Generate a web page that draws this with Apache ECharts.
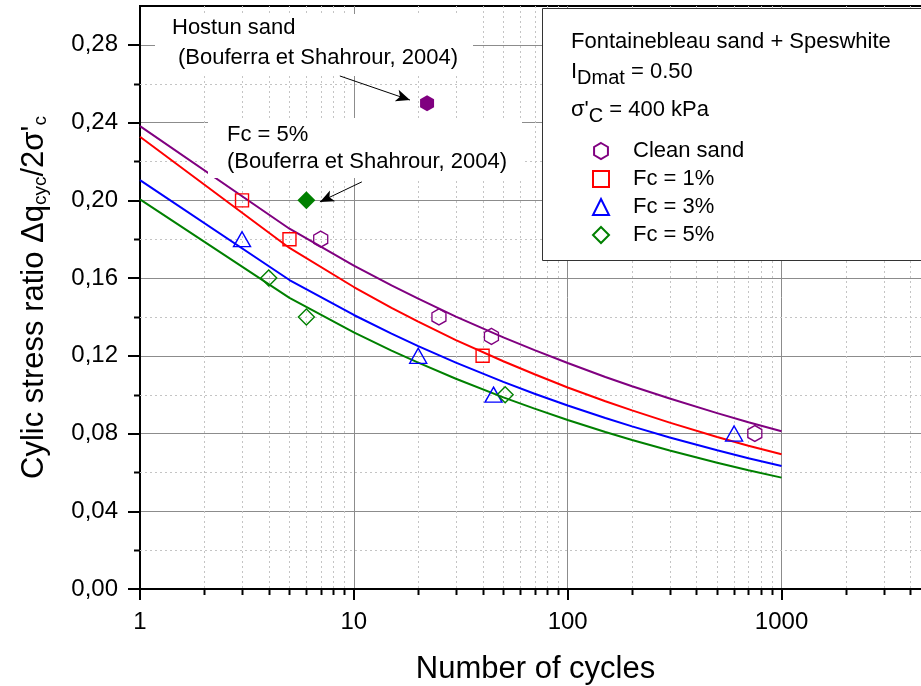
<!DOCTYPE html>
<html>
<head>
<meta charset="utf-8">
<script src="https://cdn.jsdelivr.net/npm/echarts@6/dist/echarts.min.js"></script>
<style>
  html, body { margin: 0; padding: 0; background: #fff; }
  #chart { width: 921px; height: 686px; }
</style>
</head>
<body>
<div id="chart"></div>
<script>
const FONT = '"Liberation Sans", Arial, Helvetica, sans-serif';

// fitted curves, sampled at these numbers of cycles
const fitCycles = [1, 5, 10, 15, 20, 30, 50, 70, 100, 150, 200, 300, 500, 700, 1000];
const fitClean = [0.2382, 0.1854, 0.1664, 0.1562, 0.1494, 0.1402, 0.1295, 0.1229, 0.1163, 0.1091, 0.1043, 0.0980, 0.0905, 0.0858, 0.0812];
const fitFc1 = [0.2327, 0.1755, 0.1554, 0.1447, 0.1376, 0.1281, 0.1172, 0.1105, 0.1037, 0.0966, 0.0919, 0.0856, 0.0782, 0.0737, 0.0693];
const fitFc3 = [0.2104, 0.1590, 0.1410, 0.1314, 0.1250, 0.1165, 0.1066, 0.1005, 0.0944, 0.0880, 0.0837, 0.0780, 0.0714, 0.0673, 0.0633];
const fitFc5 = [0.2005, 0.1498, 0.1321, 0.1227, 0.1165, 0.1082, 0.0986, 0.0928, 0.0870, 0.0808, 0.0767, 0.0713, 0.0650, 0.0611, 0.0573];

// test points [cycles, CSR]
const cleanSand = [[7, 0.18], [25, 0.14], [44, 0.13], [750, 0.08]];
const fc1 = [[3, 0.20], [5, 0.18], [40, 0.12]];
const fc3 = [[3, 0.18], [20, 0.12], [45, 0.10], [600, 0.08]];
const fc5 = [[4, 0.16], [6, 0.14], [51, 0.10]];
const hostunClean = [[22, 0.25]];
const hostunFc5 = [[6, 0.20]];

// annotation arrows [from, to]
const arrowHostun = [[8.6, 0.264], [18.3, 0.2516]];
const arrowFc5 = [[10.9, 0.2095], [6.94, 0.1992]];

const xMinor = [2, 3, 4, 5, 6, 7, 8, 9, 20, 30, 40, 50, 60, 70, 80, 90,
  200, 300, 400, 500, 600, 700, 800, 900, 2000, 3000, 4000];
const yMajor = [0, 0.04, 0.08, 0.12, 0.16, 0.20, 0.24, 0.28];
const yMinor = [0.02, 0.06, 0.10, 0.14, 0.18, 0.22, 0.26];

const HEX = 'path://M50,0 L93.3,25 L93.3,75 L50,100 L6.7,75 L6.7,25 Z';
const NONE = 'rgba(255,255,255,0)';

const pairs = (xs, ys) => xs.map((x, i) => [x, ys[i]]);

const fitLine = (name, color, values) => ({
  name, type: 'line', data: pairs(fitCycles, values), symbol: 'none',
  lineStyle: { color, width: 2 }, itemStyle: { color }, z: 2, silent: true
});

const points = (name, color, data, symbol, size, filled) => ({
  name, type: 'scatter', data, symbol, symbolSize: size, z: 3, silent: true,
  itemStyle: filled
    ? { color, opacity: 1 }
    : { color: NONE, borderColor: color, borderWidth: 1.4, opacity: 1 }
});

const chart = echarts.init(document.getElementById('chart'));
chart.setOption({
  animation: false,
  textStyle: { fontFamily: FONT },
  grid: {
    left: 140, top: 6, width: 791, height: 583, outerBoundsMode: 'none', containLabel: false,
    show: true, borderColor: '#000', borderWidth: 2
  },
  legend: {
    data: ['Clean sand', 'Fc = 1%', 'Fc = 3%', 'Fc = 5%'],
    orient: 'vertical', left: 587, top: 135, z: 10,
    itemWidth: 16, itemHeight: 16, itemGap: 6, selectedMode: false,
    textStyle: { fontFamily: FONT, fontSize: 22, color: '#000', lineHeight: 22, padding: [0, 0, 0, 19] }
  },
  xAxis: {
    type: 'log', min: 1, max: 5000, logBase: 10,
    name: 'Number of cycles', nameLocation: 'middle', nameGap: 65,
    nameTextStyle: { fontFamily: FONT, fontSize: 31, color: '#000' },
    axisLine: { lineStyle: { color: '#000', width: 2 } },
    axisTick: { inside: false, length: 11, lineStyle: { color: '#000', width: 2 } },
    axisLabel: {
      fontFamily: FONT, fontSize: 24, color: '#000', margin: 21,
      formatter: v => (Math.abs(Math.log10(v) - Math.round(Math.log10(v))) < 1e-6 && v < 2000 ? String(Math.round(v)) : '')
    },
    splitLine: { show: true, lineStyle: { color: '#8c8c8c', width: 1 } },
    minorTick: { show: false }
  },
  yAxis: {
    type: 'value', min: 0, max: 0.30, interval: 0.04,
    name: '{n|Cylic stress ratio Δq}{s|cyc}{n|/2σ\'}{s|c}',
    nameLocation: 'middle', nameGap: 90,
    nameTextStyle: {
      fontFamily: FONT, fontSize: 31, color: '#000',
      rich: {
        n: { fontFamily: FONT, fontSize: 31, color: '#000' },
        s: { fontFamily: FONT, fontSize: 19, color: '#000', padding: [13, 0, 0, 0] }
      }
    },
    axisLine: { lineStyle: { color: '#000', width: 2 } },
    axisTick: { length: 12, customValues: yMajor, lineStyle: { color: '#000', width: 2 } },
    axisLabel: {
      fontFamily: FONT, fontSize: 24, color: '#000', margin: 22, customValues: yMajor,
      formatter: v => (v > 0.29 ? '' : v.toFixed(2).replace('.', ','))
    },
    splitLine: { show: true, lineStyle: { color: '#8c8c8c', width: 1 } }
  },
  graphic: [
    { type: 'rect', shape: { x: 155, y: 14, width: 318, height: 62 }, style: { fill: '#fff' }, z: 5, silent: true },
    { type: 'rect', shape: { x: 208, y: 118, width: 314, height: 60 }, style: { fill: '#fff' }, z: 5, silent: true },
    { type: 'rect', shape: { x: 542.5, y: 8.5, width: 400, height: 252 }, style: { fill: '#fff', stroke: '#333', lineWidth: 1 }, z: 5, silent: true },
    { type: 'text', x: 172, y: 28, z: 6, style: { text: 'Hostun sand', font: '22px ' + FONT, fill: '#000', verticalAlign: 'middle' } },
    { type: 'text', x: 178, y: 58, z: 6, style: { text: '(Bouferra et Shahrour, 2004)', font: '22px ' + FONT, fill: '#000', verticalAlign: 'middle' } },
    { type: 'text', x: 227, y: 135, z: 6, style: { text: 'Fc = 5%', font: '22px ' + FONT, fill: '#000', verticalAlign: 'middle' } },
    { type: 'text', x: 227, y: 162, z: 6, style: { text: '(Bouferra et Shahrour, 2004)', font: '22px ' + FONT, fill: '#000', verticalAlign: 'middle' } },
    { type: 'text', x: 571, y: 42, z: 6, style: { text: 'Fontainebleau sand + Speswhite', font: '22px ' + FONT, fill: '#000', verticalAlign: 'middle' } },
    {
      type: 'text', x: 571, y: 72, z: 6,
      style: {
        text: '{n|I}{s|Dmat}{n| = 0.50}', verticalAlign: 'middle', fill: '#000',
        rich: {
          n: { fontFamily: FONT, fontSize: 22, fill: '#000' },
          s: { fontFamily: FONT, fontSize: 20, fill: '#000', padding: [12, 0, 0, 0] }
        }
      }
    },
    {
      type: 'text', x: 571, y: 110, z: 6,
      style: {
        text: '{n|σ\'}{s|C}{n| = 400 kPa}', verticalAlign: 'middle', fill: '#000',
        rich: {
          n: { fontFamily: FONT, fontSize: 22, fill: '#000' },
          s: { fontFamily: FONT, fontSize: 20, fill: '#000', padding: [12, 0, 0, 0] }
        }
      }
    }
  ],
  series: [
    {
      name: 'minor-x', type: 'custom', z: 1, silent: true,
      data: xMinor.map(v => [v, 0.1]),
      renderItem: (params, api) => {
        const cs = params.coordSys;
        const x = Math.round(api.coord([api.value(0), 0.1])[0]) + 0.5;
        const bottom = cs.y + cs.height;
        return {
          type: 'group', children: [
            { type: 'line', shape: { x1: x, y1: cs.y, x2: x, y2: bottom }, style: { stroke: '#c4c4c4', lineWidth: 1, lineDash: [2, 3] } },
            { type: 'line', shape: { x1: x, y1: bottom, x2: x, y2: bottom + 6 }, style: { stroke: '#000', lineWidth: 2 } }
          ]
        };
      }
    },
    {
      name: 'minor-y', type: 'custom', z: 1, silent: true,
      data: yMinor.map(v => [1, v]),
      renderItem: (params, api) => {
        const cs = params.coordSys;
        const y = Math.round(api.coord([1, api.value(1)])[1]) + 0.5;
        return {
          type: 'group', children: [
            { type: 'line', shape: { x1: cs.x, y1: y, x2: cs.x + cs.width, y2: y }, style: { stroke: '#c4c4c4', lineWidth: 1, lineDash: [2, 3] } },
            { type: 'line', shape: { x1: cs.x - 6, y1: y, x2: cs.x, y2: y }, style: { stroke: '#000', lineWidth: 2 } }
          ]
        };
      }
    },
    fitLine('Clean sand fit', '#800080', fitClean),
    fitLine('Fc = 1% fit', '#ff0000', fitFc1),
    fitLine('Fc = 3% fit', '#0000ff', fitFc3),
    fitLine('Fc = 5% fit', '#008000', fitFc5),
    points('Clean sand', '#800080', cleanSand, HEX, [14, 16], false),
    points('Fc = 1%', '#ff0000', fc1, 'rect', 13, false),
    points('Fc = 3%', '#0000ff', fc3, 'triangle', [17, 15], false),
    points('Fc = 5%', '#008000', fc5, 'diamond', 16, false),
    points('Hostun clean', '#800080', hostunClean, HEX, [14, 16], true),
    points('Hostun Fc = 5%', '#008000', hostunFc5, 'diamond', 18, true),
    {
      name: 'arrows', type: 'line', data: [], z: 10, silent: true,
      markLine: {
        silent: true, symbol: ['none', 'arrow'], symbolSize: [9, 14],
        label: { show: false },
        lineStyle: { color: '#000', width: 1, type: 'solid' },
        data: [
          [{ coord: arrowHostun[0] }, { coord: arrowHostun[1] }],
          [{ coord: arrowFc5[0] }, { coord: arrowFc5[1] }]
        ]
      }
    }
  ]
});
window.addEventListener('resize', () => chart.resize());
</script>
</body>
</html>
